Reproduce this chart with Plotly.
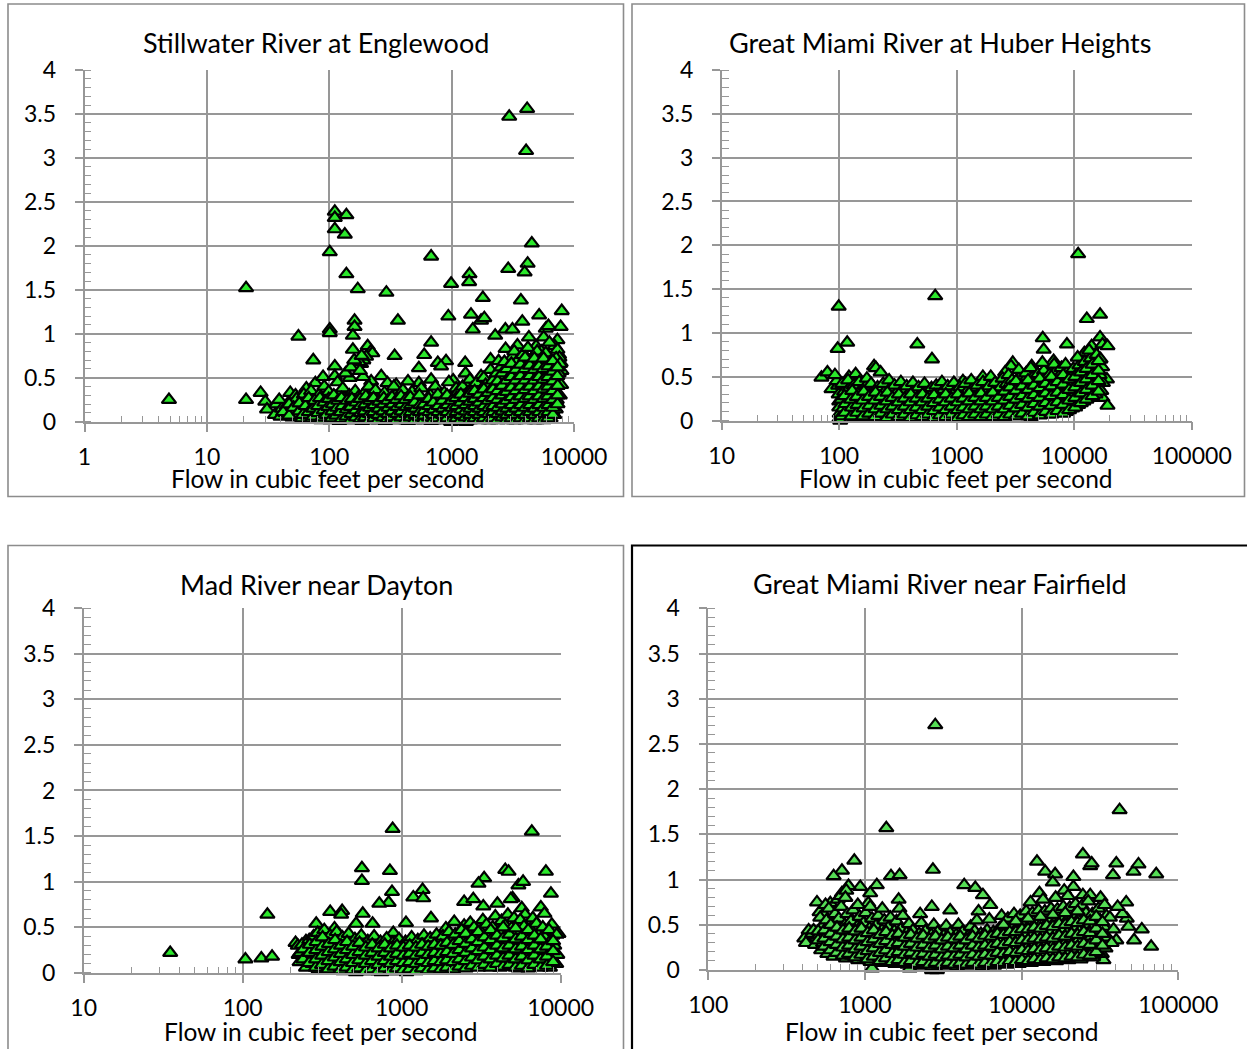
import plotly.graph_objects as go

W, H = 1247, 1049
FONT = "Lato"
GRAY = "#979797"

# ---------------- data ----------------
titles = ["Stillwater River at Englewood", "Great Miami River at Huber Heights",
          "Mad River near Dayton", "Great Miami River near Fairfield"]
x_title = "Flow in cubic feet per second"

y_tick_vals = [0, 0.5, 1, 1.5, 2, 2.5, 3, 3.5, 4]
y_tick_text = ["0", "0.5", "1", "1.5", "2", "2.5", "3", "3.5", "4"]

stillwater_ticks = [1, 10, 100, 1000, 10000]
stillwater_ticktext = ["1", "10", "100", "1000", "10000"]
huber_ticks = [10, 100, 1000, 10000, 100000]
huber_ticktext = ["10", "100", "1000", "10000", "100000"]
mad_ticks = [10, 100, 1000, 10000]
mad_ticktext = ["10", "100", "1000", "10000"]
fairfield_ticks = [100, 1000, 10000, 100000]
fairfield_ticktext = ["100", "1000", "10000", "100000"]

# (flow, value) pairs
stillwater_points = [
    (4.9, 0.25), (20.9, 1.52), (20.9, 0.25), (27.5, 0.33), (30, 0.23), (31, 0.14), (37, 0.20), (36, 0.08),
    (48, 0.33), (46, 0.21), (56, 0.97), (65, 0.38), (74, 0.70), (77, 0.44), (89, 0.51),
    (101, 1.93), (101, 1.05), (101, 1.01), (111, 2.39), (111, 2.32), (111, 2.19), (138, 2.35), (134, 2.13),
    (138, 1.68), (171, 1.51), (293, 1.47), (680, 1.88), (990, 1.57), (1400, 1.68), (1390, 1.59), (1800, 1.41),
    (2955, 3.47), (4140, 3.56), (4060, 3.08), (4520, 2.03), (2900, 1.74), (4180, 1.80), (3950, 1.70),
    (3680, 1.38), (940, 1.20), (1440, 1.22), (1740, 1.15), (1850, 1.18), (1490, 1.05), (7940, 1.26),
    (5190, 1.21), (3780, 1.14), (7780, 1.08), (2270, 0.98), (2750, 1.05), (3140, 1.05), (5880, 1.06),
    (6180, 1.09), (161, 1.15), (161, 1.08), (156, 0.98), (364, 1.15), (156, 0.82), (206, 0.86), (219, 0.80),
    (225, 0.78), (342, 0.75), (680, 0.90), (597, 0.76), (771, 0.67), (900, 0.69), (820, 0.63), (540, 0.61),
    (111, 0.63), (1290, 0.67), (1300, 0.55), (2760, 0.83), (3450, 0.87), (4280, 0.96), (4900, 0.86),
    (5650, 0.96), (7320, 0.93), (6950, 0.86), (3150, 0.74), (4040, 0.74), (4900, 0.74), (6080, 0.72),
    (7550, 0.76), (7780, 0.67), (2080, 0.71), (2420, 0.69), (2080, 0.59), (2600, 0.59), (1740, 0.52),
    (1310, 0.42), (1030, 0.47), (680, 0.48), (540, 0.44), (440, 0.46), (352, 0.42), (266, 0.52), (220, 0.46),
    (189, 0.51), (147, 0.50), (111, 0.52), (182, 0.66), (190, 0.70), (200, 0.74), (168, 0.62), (175, 0.68),
    (7320, 0.82), (7600, 0.73), (7100, 0.64), (7900, 0.58), (6600, 0.62), (5400, 0.80), (6300, 0.90),
    (40, 0.06), (41, 0.15), (39, 0.25), (44, 0.10), (45, 0.18),
    (50, 0.05), (48, 0.12), (52, 0.22), (53, 0.30), (56, 0.08), (58, 0.16), (54, 0.26),
    (60, 0.04), (63, 0.12), (59, 0.20), (62, 0.31), (67, 0.07), (69, 0.15), (65, 0.24),
    (72, 0.03), (70, 0.10), (75, 0.19), (73, 0.28), (71, 0.35), (79, 0.06), (82, 0.14), (78, 0.22), (83, 0.31),
    (86, 0.02), (84, 0.09), (89, 0.17), (87, 0.26), (91, 0.40), (94, 0.05), (92, 0.12), (97, 0.21), (96, 0.30),
    (102, 0.02), (106, 0.08), (100, 0.15), (104, 0.24), (99, 0.34), (111, 0.04), (115, 0.11), (108, 0.19),
    (113, 0.28), (117, 0.45), (121, 0.01), (125, 0.07), (119, 0.14), (127, 0.22), (123, 0.32),
    (132, 0.03), (137, 0.10), (130, 0.18), (134, 0.27), (129, 0.38), (136, 0.55),
    (144, 0.05), (149, 0.12), (141, 0.20), (146, 0.30), (150, 0.62),
    (157, 0.02), (162, 0.08), (154, 0.16), (159, 0.25), (163, 0.35), (160, 0.70),
    (171, 0.04), (176, 0.11), (167, 0.19), (173, 0.28), (178, 0.58),
    (186, 0.01), (192, 0.07), (182, 0.14), (189, 0.22), (194, 0.33), (184, 0.75),
    (203, 0.03), (209, 0.10), (198, 0.18), (206, 0.27), (211, 0.40),
    (221, 0.05), (228, 0.12), (216, 0.20), (224, 0.30), (241, 0.02), (248, 0.08), (235, 0.15), (245, 0.24),
    (239, 0.36), (263, 0.04), (271, 0.11), (257, 0.19), (268, 0.28),
    (287, 0.01), (296, 0.07), (280, 0.14), (291, 0.22), (283, 0.33), (299, 0.44),
    (313, 0.03), (322, 0.10), (306, 0.17), (318, 0.26), (341, 0.05), (351, 0.12), (333, 0.20), (346, 0.30),
    (337, 0.40), (372, 0.02), (383, 0.08), (363, 0.15), (378, 0.24),
    (405, 0.04), (417, 0.11), (396, 0.18), (411, 0.27), (400, 0.36), (442, 0.01), (455, 0.07), (431, 0.14),
    (449, 0.22), (482, 0.03), (496, 0.09), (470, 0.16), (489, 0.25), (475, 0.34),
    (525, 0.05), (541, 0.12), (512, 0.19), (533, 0.28), (572, 0.02), (589, 0.08), (558, 0.15), (581, 0.23),
    (565, 0.38), (624, 0.04), (642, 0.10), (609, 0.17), (633, 0.26),
    (680, 0.01), (700, 0.07), (663, 0.13), (690, 0.21), (671, 0.30), (741, 0.03), (763, 0.09), (723, 0.16),
    (752, 0.24), (735, 0.40), (808, 0.05), (832, 0.11), (788, 0.18), (820, 0.27),
    (881, 0.02), (907, 0.08), (859, 0.14), (894, 0.22), (870, 0.33), (960, 0.04), (988, 0.10), (937, 0.17),
    (975, 0.26), (950, 0.45), (1047, 0.01), (1078, 0.07), (1021, 0.13), (1063, 0.21), (1035, 0.30),
    (1090, 0.38), (1141, 0.03), (1175, 0.09), (1113, 0.16), (1158, 0.24), (1128, 0.34),
    (1244, 0.05), (1281, 0.11), (1214, 0.19), (1263, 0.28), (1230, 0.40),
    (1356, 0.02), (1396, 0.08), (1323, 0.15), (1377, 0.23), (1341, 0.33), (1410, 0.48),
    (1479, 0.04), (1523, 0.10), (1443, 0.18), (1501, 0.27), (1460, 0.38),
    (1612, 0.06), (1660, 0.13), (1573, 0.21), (1636, 0.31), (1590, 0.44),
    (1758, 0.03), (1810, 0.09), (1715, 0.17), (1784, 0.26), (1740, 0.36), (1830, 0.50),
    (1917, 0.05), (1974, 0.12), (1870, 0.20), (1946, 0.30), (1895, 0.42),
    (2090, 0.02), (2152, 0.08), (2039, 0.16), (2121, 0.25), (2065, 0.35), (2170, 0.47),
    (2279, 0.04), (2347, 0.11), (2223, 0.19), (2313, 0.29), (2250, 0.40), (2330, 0.55),
    (2485, 0.06), (2559, 0.14), (2424, 0.23), (2522, 0.33), (2455, 0.45), (2540, 0.62),
    (2710, 0.03), (2790, 0.10), (2644, 0.18), (2750, 0.28), (2680, 0.39), (2770, 0.52), (2700, 0.68),
    (2955, 0.05), (3043, 0.13), (2883, 0.22), (2999, 0.32), (2920, 0.44), (3020, 0.58),
    (3222, 0.02), (3318, 0.09), (3144, 0.17), (3270, 0.27), (3185, 0.38), (3290, 0.50), (3200, 0.64),
    (3250, 0.80), (3513, 0.04), (3618, 0.12), (3428, 0.21), (3565, 0.31), (3470, 0.42), (3590, 0.55),
    (3490, 0.70), (3831, 0.07), (3945, 0.15), (3738, 0.25), (3888, 0.36), (3790, 0.48), (3910, 0.60),
    (3810, 0.76), (4177, 0.03), (4302, 0.11), (4075, 0.20), (4239, 0.30), (4130, 0.41), (4260, 0.53),
    (4150, 0.66), (4200, 0.84), (4555, 0.06), (4691, 0.14), (4444, 0.24), (4622, 0.35), (4500, 0.46),
    (4650, 0.58), (4530, 0.72), (4967, 0.02), (5115, 0.10), (4846, 0.19), (5040, 0.29), (4910, 0.40),
    (5070, 0.52), (4950, 0.65), (5000, 0.80), (5416, 0.05), (5577, 0.13), (5284, 0.23), (5496, 0.34),
    (5350, 0.45), (5530, 0.57), (5390, 0.70), (5906, 0.08), (6082, 0.17), (5762, 0.27), (5993, 0.38),
    (5840, 0.50), (6030, 0.62), (5880, 0.78), (6440, 0.04), (6632, 0.12), (6283, 0.22), (6535, 0.33),
    (6360, 0.44), (6580, 0.56), (6400, 0.68), (7023, 0.15), (7232, 0.25), (6852, 0.36), (7127, 0.48),
    (6940, 0.60), (7150, 0.72), (7658, 0.30), (7850, 0.42), (7500, 0.55), (7700, 0.66),
    (6900, 0.08), (7100, 0.14), (2760, 0.10), (990, 0.0), (1310, 0.0), (1850, 0.04), (3850, 0.08),
    (5880, 0.08),
]

stillwater_dense = [
    (42, 0.11), (47, 0.07), (47, 0.20), (51, 0.16), (57, 0.12), (57, 0.21), (61, 0.08), (64, 0.18),
    (68, 0.11), (68, 0.27), (74, 0.06), (74, 0.15), (76, 0.24), (81, 0.10), (81, 0.18), (84, 0.27),
    (88, 0.05), (90, 0.13), (91, 0.22), (95, 0.08), (98, 0.17), (99, 0.26), (105, 0.04), (106, 0.12),
    (107, 0.20), (109, 0.30), (114, 0.07), (116, 0.16), (118, 0.24), (126, 0.03), (124, 0.11), (128, 0.18),
    (126, 0.27), (138, 0.06), (139, 0.14), (140, 0.24), (151, 0.02), (152, 0.09), (150, 0.17), (153, 0.26),
    (165, 0.05), (165, 0.13), (166, 0.22), (180, 0.03), (181, 0.10), (180, 0.18), (179, 0.26), (196, 0.05),
    (195, 0.12), (197, 0.20), (199, 0.29), (213, 0.02), (214, 0.09), (215, 0.16), (216, 0.24), (232, 0.04),
    (231, 0.11), (233, 0.19), (230, 0.27), (252, 0.02), (253, 0.08), (254, 0.15), (256, 0.23), (275, 0.05),
    (276, 0.12), (278, 0.20), (279, 0.27), (300, 0.03), (302, 0.09), (304, 0.16), (301, 0.24), (327, 0.05),
    (328, 0.12), (330, 0.20), (326, 0.28), (357, 0.02), (358, 0.09), (360, 0.17), (355, 0.25), (388, 0.05),
    (390, 0.12), (392, 0.20), (386, 0.29), (424, 0.02), (425, 0.09), (427, 0.17), (420, 0.25), (462, 0.05),
    (464, 0.11), (466, 0.19), (460, 0.28), (503, 0.02), (505, 0.08), (508, 0.15), (500, 0.22), (548, 0.05),
    (550, 0.11), (553, 0.19), (546, 0.30), (596, 0.02), (598, 0.07), (600, 0.13), (595, 0.20), (652, 0.05),
    (655, 0.11), (657, 0.18), (650, 0.26), (710, 0.02), (712, 0.08), (715, 0.14), (708, 0.22), (775, 0.04),
    (778, 0.11), (780, 0.18), (772, 0.31), (845, 0.02), (848, 0.08), (850, 0.15), (842, 0.24), (920, 0.04),
    (923, 0.11), (925, 0.19), (918, 0.30), (1003, 0.02), (1006, 0.09), (1009, 0.16), (1000, 0.24),
    (1094, 0.04), (1097, 0.11), (1100, 0.18), (1090, 0.27), (1192, 0.02), (1195, 0.08), (1198, 0.14),
    (1188, 0.22), (1190, 0.31), (1300, 0.05), (1303, 0.12), (1306, 0.19), (1296, 0.27), (1417, 0.02),
    (1420, 0.08), (1424, 0.15), (1412, 0.23), (1414, 0.32), (1545, 0.04), (1548, 0.11), (1552, 0.18),
    (1540, 0.26), (1542, 0.35), (1684, 0.02), (1688, 0.08), (1692, 0.15), (1680, 0.22), (1682, 0.31),
    (1836, 0.04), (1840, 0.11), (1844, 0.18), (1830, 0.27), (1833, 0.37), (2001, 0.02), (2006, 0.09),
    (2011, 0.16), (1995, 0.24), (1998, 0.33), (2183, 0.04), (2188, 0.11), (2193, 0.18), (2176, 0.27),
    (2180, 0.37), (2380, 0.02), (2385, 0.09), (2391, 0.16), (2373, 0.25), (2377, 0.35), (2375, 0.46),
    (2595, 0.05), (2601, 0.12), (2607, 0.20), (2588, 0.30), (2591, 0.41), (2590, 0.55), (2830, 0.02),
    (2836, 0.08), (2843, 0.15), (2822, 0.24), (2826, 0.34), (2825, 0.47), (2824, 0.60), (3085, 0.04),
    (3092, 0.11), (3099, 0.19), (3077, 0.28), (3081, 0.39), (3079, 0.51), (3080, 0.66), (3364, 0.02),
    (3371, 0.08), (3379, 0.15), (3355, 0.25), (3360, 0.35), (3358, 0.47), (3357, 0.59), (3668, 0.04),
    (3676, 0.11), (3684, 0.19), (3659, 0.29), (3664, 0.40), (3662, 0.52), (3661, 0.65), (4000, 0.02),
    (4009, 0.08), (4017, 0.16), (3990, 0.26), (3995, 0.36), (3993, 0.47), (3992, 0.60), (3991, 0.73),
    (4362, 0.04), (4371, 0.11), (4380, 0.19), (4351, 0.29), (4357, 0.40), (4355, 0.52), (4354, 0.64),
    (4755, 0.02), (4765, 0.08), (4775, 0.15), (4743, 0.25), (4750, 0.35), (4748, 0.47), (4747, 0.59),
    (4746, 0.72), (5185, 0.04), (5196, 0.11), (5207, 0.19), (5172, 0.29), (5179, 0.40), (5177, 0.51),
    (5176, 0.63), (5654, 0.02), (5666, 0.09), (5678, 0.16), (5640, 0.26), (5647, 0.37), (5645, 0.48),
    (5644, 0.60), (5643, 0.72), (6166, 0.04), (6179, 0.11), (6192, 0.19), (6150, 0.29), (6158, 0.40),
    (6155, 0.51), (6154, 0.63), (6724, 0.08), (6738, 0.16), (6752, 0.25), (6707, 0.35), (6716, 0.46),
    (6713, 0.57), (6712, 0.69), (7332, 0.20), (7347, 0.30), (7362, 0.41), (7314, 0.52), (7323, 0.62),
]

huber_points = [
    (99, 1.30), (97, 0.82), (117, 0.89), (656, 1.42), (462, 0.87), (616, 0.70), (10800, 1.90),
    (12800, 1.16), (16600, 1.21), (16600, 0.95), (5400, 0.94), (5500, 0.81), (8670, 0.87), (14060, 0.85),
    (12200, 0.77), (14800, 0.74), (17400, 0.87), (19200, 0.85), (19000, 0.47), (17400, 0.26),
    (19200, 0.17), (70.6, 0.49), (79.4, 0.55), (86, 0.36), (198, 0.62), (3000, 0.66), (2900, 0.62),
    (2580, 0.55), (4350, 0.62), (6680, 0.68), (6760, 0.62), (1670, 0.50), (1130, 0.45), (8780, 0.28),
    (10100, 0.32), (98, 0.40), (99, 0.30), (100, 0.22), (100, 0.15), (101, 0.08), (100, 0.02), (102, 0.0),
    (95, 0.45), (92, 0.52), (121, 0.50), (138, 0.53), (205, 0.60),
    (105, 0.05), (108, 0.14), (104, 0.24), (110, 0.33), (106, 0.42),
    (120, 0.10), (124, 0.19), (117, 0.28), (122, 0.37), (119, 0.46),
    (135, 0.04), (139, 0.13), (131, 0.22), (137, 0.31), (133, 0.40),
    (150, 0.08), (155, 0.17), (146, 0.26), (153, 0.35), (148, 0.44),
    (170, 0.03), (176, 0.12), (165, 0.21), (173, 0.30), (168, 0.39), (172, 0.48),
    (190, 0.07), (197, 0.16), (184, 0.25), (193, 0.34), (187, 0.42),
    (215, 0.02), (222, 0.11), (208, 0.20), (218, 0.29), (212, 0.38), (225, 0.55),
    (240, 0.06), (248, 0.15), (233, 0.24), (244, 0.33), (237, 0.42),
    (270, 0.10), (279, 0.19), (262, 0.28), (275, 0.37), (266, 0.46),
    (300, 0.04), (310, 0.13), (291, 0.22), (305, 0.31), (296, 0.40),
    (340, 0.08), (351, 0.17), (330, 0.26), (346, 0.35), (335, 0.44),
    (380, 0.03), (393, 0.12), (369, 0.21), (387, 0.30), (375, 0.39),
    (430, 0.07), (444, 0.16), (417, 0.25), (437, 0.34), (424, 0.43),
    (480, 0.02), (496, 0.11), (466, 0.20), (488, 0.29), (473, 0.38),
    (540, 0.06), (558, 0.15), (524, 0.24), (549, 0.33), (532, 0.42),
    (600, 0.10), (620, 0.19), (582, 0.28), (610, 0.37),
    (680, 0.04), (702, 0.13), (660, 0.22), (691, 0.31), (670, 0.40),
    (760, 0.08), (785, 0.17), (737, 0.26), (773, 0.35), (749, 0.44),
    (850, 0.03), (878, 0.12), (825, 0.21), (864, 0.30), (838, 0.39),
    (960, 0.07), (992, 0.16), (931, 0.25), (976, 0.34), (946, 0.43),
    (1080, 0.02), (1116, 0.11), (1048, 0.20), (1098, 0.29), (1064, 0.38),
    (1200, 0.06), (1240, 0.15), (1164, 0.24), (1220, 0.33), (1183, 0.42),
    (1350, 0.10), (1395, 0.19), (1310, 0.28), (1373, 0.37), (1330, 0.46),
    (1520, 0.04), (1570, 0.13), (1475, 0.22), (1546, 0.31), (1498, 0.40),
    (1700, 0.08), (1756, 0.17), (1650, 0.26), (1729, 0.35), (1676, 0.44),
    (1900, 0.03), (1963, 0.12), (1844, 0.21), (1932, 0.30), (1873, 0.39), (1950, 0.50),
    (2150, 0.07), (2221, 0.16), (2086, 0.25), (2186, 0.34), (2120, 0.43),
    (2400, 0.02), (2480, 0.11), (2329, 0.20), (2441, 0.29), (2366, 0.38), (2460, 0.48),
    (2700, 0.06), (2789, 0.15), (2620, 0.24), (2746, 0.33), (2662, 0.42), (2760, 0.52),
    (3000, 0.10), (3099, 0.19), (2911, 0.28), (3051, 0.37), (2958, 0.46),
    (3400, 0.05), (3512, 0.14), (3299, 0.23), (3458, 0.32), (3352, 0.41), (3480, 0.50), (3380, 0.58),
    (3800, 0.09), (3925, 0.18), (3687, 0.27), (3865, 0.36), (3747, 0.45), (3890, 0.54),
    (4300, 0.04), (4442, 0.13), (4172, 0.22), (4373, 0.31), (4240, 0.40), (4400, 0.49), (4270, 0.60),
    (4800, 0.08), (4958, 0.17), (4658, 0.26), (4882, 0.35), (4733, 0.44), (4910, 0.53),
    (5400, 0.12), (5578, 0.21), (5240, 0.30), (5492, 0.39), (5325, 0.48), (5520, 0.57), (5360, 0.66),
    (6000, 0.07), (6198, 0.16), (5822, 0.25), (6102, 0.34), (5917, 0.43), (6140, 0.52),
    (6800, 0.11), (7024, 0.20), (6598, 0.29), (6916, 0.38), (6706, 0.47), (6950, 0.56), (6750, 0.64),
    (7600, 0.15), (7851, 0.24), (7374, 0.33), (7729, 0.42), (7494, 0.51), (7780, 0.60),
    (8500, 0.10), (8780, 0.19), (8248, 0.28), (8645, 0.37), (8382, 0.46), (8700, 0.55), (8440, 0.64),
    (9600, 0.14), (9917, 0.23), (9315, 0.32), (9763, 0.41), (9467, 0.50), (9820, 0.59),
    (10800, 0.18), (11156, 0.27), (10479, 0.36), (10984, 0.45), (10650, 0.54), (11050, 0.63), (10700, 0.72),
    (12000, 0.22), (12396, 0.31), (11644, 0.40), (12204, 0.49), (11834, 0.58), (12280, 0.67),
    (13500, 0.26), (13945, 0.35), (13099, 0.44), (13730, 0.53), (13313, 0.62), (13800, 0.71), (13400, 0.80),
    (15200, 0.30), (15702, 0.39), (14749, 0.48), (15458, 0.57), (14990, 0.66), (15500, 0.75),
    (17000, 0.34), (17560, 0.43), (16495, 0.52), (17289, 0.61), (16765, 0.70),
]

huber_dense = [
    (112, 0.09), (113, 0.19), (111, 0.28), (127, 0.05), (128, 0.15), (126, 0.24), (129, 0.34),
    (142, 0.09), (143, 0.18), (141, 0.27), (160, 0.05), (161, 0.14), (159, 0.23), (162, 0.33),
    (180, 0.08), (181, 0.17), (179, 0.27), (202, 0.04), (203, 0.13), (201, 0.23), (204, 0.32),
    (227, 0.08), (228, 0.17), (226, 0.27), (255, 0.03), (256, 0.13), (254, 0.22), (257, 0.32),
    (285, 0.07), (286, 0.16), (284, 0.26), (320, 0.04), (321, 0.12), (319, 0.21), (322, 0.30),
    (360, 0.07), (361, 0.16), (359, 0.25), (405, 0.03), (406, 0.12), (404, 0.21), (407, 0.30),
    (455, 0.06), (456, 0.15), (454, 0.25), (510, 0.04), (511, 0.12), (509, 0.21), (512, 0.30),
    (570, 0.07), (571, 0.16), (569, 0.25), (640, 0.03), (641, 0.11), (639, 0.20), (642, 0.29),
    (720, 0.06), (721, 0.15), (719, 0.24), (805, 0.04), (806, 0.12), (804, 0.21), (807, 0.30),
    (905, 0.07), (906, 0.16), (904, 0.25), (1020, 0.03), (1021, 0.12), (1019, 0.21), (1022, 0.30),
    (1140, 0.06), (1141, 0.15), (1139, 0.25), (1275, 0.04), (1276, 0.13), (1274, 0.22), (1277, 0.31),
    (1435, 0.07), (1436, 0.16), (1434, 0.26), (1610, 0.04), (1611, 0.13), (1609, 0.22), (1612, 0.31),
    (1800, 0.07), (1801, 0.16), (1799, 0.26), (2025, 0.04), (2026, 0.13), (2024, 0.22), (2027, 0.32),
    (2275, 0.07), (2276, 0.16), (2274, 0.26), (2550, 0.04), (2551, 0.13), (2549, 0.23), (2552, 0.33),
    (2850, 0.07), (2851, 0.17), (2849, 0.27), (2848, 0.38), (3200, 0.05), (3201, 0.14), (3199, 0.24),
    (3202, 0.34), (3198, 0.45), (3600, 0.08), (3601, 0.18), (3599, 0.28), (3602, 0.39), (4050, 0.05),
    (4051, 0.15), (4049, 0.25), (4052, 0.35), (4048, 0.46), (4550, 0.09), (4551, 0.19), (4549, 0.29),
    (4552, 0.40), (5100, 0.06), (5101, 0.16), (5099, 0.26), (5102, 0.37), (5098, 0.48), (5700, 0.10),
    (5701, 0.20), (5699, 0.31), (5702, 0.42), (6400, 0.07), (6401, 0.17), (6399, 0.28), (6402, 0.39),
    (6398, 0.50), (7200, 0.11), (7201, 0.21), (7199, 0.32), (7202, 0.44), (8050, 0.08), (8051, 0.18),
    (8049, 0.29), (8052, 0.41), (8048, 0.52), (9050, 0.12), (9051, 0.23), (9049, 0.35), (9052, 0.47),
    (10200, 0.15), (10201, 0.26), (10199, 0.38), (10202, 0.50), (11400, 0.20), (11401, 0.31),
    (11399, 0.43), (11402, 0.55), (12700, 0.24), (12701, 0.35), (12699, 0.47), (12702, 0.59),
    (14300, 0.28), (14301, 0.40), (14299, 0.52), (14302, 0.64), (16100, 0.33), (16101, 0.45),
    (16099, 0.57), (16102, 0.68),
]

mad_points = [
    (35, 0.22), (104, 0.15), (131, 0.16), (153, 0.18), (143, 0.64), (877, 1.58), (6580, 1.55), (562, 1.15),
    (562, 1.01), (843, 1.12), (869, 0.89), (828, 0.77), (723, 0.76), (1183, 0.83), (1353, 0.91),
    (1365, 0.82), (4480, 1.13), (4700, 1.11), (8070, 1.11), (8680, 0.87), (3300, 1.04), (3040, 0.98),
    (5420, 0.96), (5800, 1.00), (7500, 0.72), (7900, 0.65), (2470, 0.78), (2820, 0.81), (3260, 0.73),
    (4000, 0.76), (4980, 0.82), (8790, 0.53), (9680, 0.43), (8870, 0.41), (7500, 0.22), (8680, 0.22),
    (5700, 0.11), (6940, 0.11), (8240, 0.11), (355, 0.67), (422, 0.68), (416, 0.64), (569, 0.65),
    (215, 0.33), (290, 0.54), (378, 0.49), (517, 0.54), (656, 0.54), (885, 0.44), (1064, 0.55),
    (1528, 0.60), (1897, 0.49), (2140, 0.56), (2470, 0.52), (4850, 0.81), (5690, 0.71), (5970, 0.64),
    (222, 0.30), (225, 0.20), (228, 0.12), (240, 0.25), (250, 0.35), (260, 0.15),
    (230, 0.22), (236, 0.31), (250, 0.06), (256, 0.17), (246, 0.27), (262, 0.36),
    (275, 0.10), (284, 0.20), (268, 0.29), (279, 0.40), (300, 0.04), (311, 0.14), (292, 0.23),
    (305, 0.33), (296, 0.44), (330, 0.08), (341, 0.18), (321, 0.27), (336, 0.37), (326, 0.47),
    (360, 0.03), (372, 0.12), (350, 0.21), (366, 0.31), (355, 0.41),
    (395, 0.07), (408, 0.16), (384, 0.25), (402, 0.35), (390, 0.45),
    (430, 0.02), (444, 0.11), (418, 0.20), (437, 0.29), (424, 0.39),
    (470, 0.05), (486, 0.14), (457, 0.23), (478, 0.33), (464, 0.43),
    (515, 0.01), (532, 0.09), (501, 0.18), (524, 0.27), (508, 0.37),
    (565, 0.04), (584, 0.13), (549, 0.22), (575, 0.31), (557, 0.41),
    (620, 0.02), (641, 0.08), (603, 0.17), (631, 0.26), (612, 0.35),
    (680, 0.05), (703, 0.12), (661, 0.21), (692, 0.30), (671, 0.40),
    (745, 0.01), (770, 0.09), (724, 0.16), (758, 0.25), (735, 0.34),
    (815, 0.03), (842, 0.11), (792, 0.20), (829, 0.29), (804, 0.38),
    (890, 0.02), (920, 0.07), (865, 0.15), (905, 0.24), (878, 0.33),
    (975, 0.04), (1008, 0.12), (948, 0.19), (992, 0.28), (962, 0.37),
    (1070, 0.01), (1106, 0.08), (1040, 0.16), (1088, 0.25), (1056, 0.34),
    (1170, 0.05), (1209, 0.13), (1137, 0.21), (1190, 0.30), (1154, 0.39),
    (1280, 0.03), (1323, 0.10), (1244, 0.18), (1302, 0.27), (1263, 0.36),
    (1400, 0.06), (1447, 0.14), (1361, 0.23), (1424, 0.32), (1381, 0.41),
    (1530, 0.04), (1581, 0.11), (1487, 0.20), (1556, 0.29), (1510, 0.38),
    (1680, 0.07), (1736, 0.15), (1633, 0.24), (1709, 0.33), (1657, 0.42),
    (1840, 0.05), (1902, 0.12), (1789, 0.21), (1872, 0.30), (1815, 0.40),
    (2010, 0.08), (2077, 0.16), (1954, 0.25), (2045, 0.35), (1983, 0.45),
    (2200, 0.06), (2274, 0.14), (2139, 0.23), (2238, 0.32), (2170, 0.42),
    (2410, 0.09), (2491, 0.17), (2343, 0.27), (2452, 0.37), (2378, 0.47),
    (2640, 0.07), (2728, 0.15), (2566, 0.24), (2686, 0.34), (2604, 0.44), (2700, 0.55),
    (2890, 0.10), (2987, 0.19), (2809, 0.29), (2940, 0.39), (2851, 0.50),
    (3160, 0.08), (3266, 0.17), (3072, 0.26), (3215, 0.36), (3118, 0.46), (3240, 0.58),
    (3460, 0.12), (3576, 0.21), (3363, 0.31), (3520, 0.42), (3413, 0.53),
    (3790, 0.09), (3917, 0.18), (3684, 0.28), (3856, 0.39), (3739, 0.50), (3880, 0.62),
    (4150, 0.06), (4289, 0.15), (4034, 0.25), (4222, 0.35), (4094, 0.46), (4250, 0.57),
    (4540, 0.11), (4692, 0.20), (4413, 0.30), (4619, 0.41), (4479, 0.52), (4650, 0.64),
    (4970, 0.08), (5137, 0.17), (4831, 0.27), (5056, 0.38), (4903, 0.49), (5090, 0.60),
    (5440, 0.05), (5622, 0.14), (5288, 0.24), (5534, 0.35), (5366, 0.46), (5570, 0.58),
    (5960, 0.10), (6160, 0.19), (5793, 0.29), (6063, 0.40), (5880, 0.51),
    (6520, 0.07), (6738, 0.16), (6337, 0.26), (6633, 0.37), (6432, 0.48), (6680, 0.60),
    (7140, 0.12), (7379, 0.21), (6940, 0.31), (7264, 0.42), (7044, 0.54),
    (7820, 0.09), (8082, 0.18), (7601, 0.28), (7956, 0.39), (7714, 0.50),
    (8560, 0.06), (8847, 0.15), (8320, 0.25), (8708, 0.36), (8444, 0.47),
    (9370, 0.10), (9520, 0.20), (9108, 0.30), (9430, 0.42),
]

mad_dense = [
    (240, 0.15), (241, 0.26), (262, 0.11), (263, 0.22), (264, 0.31), (288, 0.06), (289, 0.15),
    (290, 0.25), (291, 0.34), (315, 0.09), (316, 0.19), (317, 0.29), (318, 0.39), (345, 0.04),
    (346, 0.13), (347, 0.23), (348, 0.32), (378, 0.07), (379, 0.17), (380, 0.26), (381, 0.36),
    (412, 0.03), (413, 0.12), (414, 0.21), (415, 0.30), (450, 0.06), (451, 0.15), (452, 0.25),
    (453, 0.34), (492, 0.03), (493, 0.11), (494, 0.20), (495, 0.29), (540, 0.05), (541, 0.14),
    (542, 0.23), (543, 0.33), (592, 0.02), (593, 0.10), (594, 0.19), (595, 0.28), (650, 0.04),
    (651, 0.13), (652, 0.22), (653, 0.31), (712, 0.02), (713, 0.09), (714, 0.18), (715, 0.27),
    (780, 0.05), (781, 0.13), (782, 0.22), (783, 0.31), (852, 0.02), (853, 0.10), (854, 0.18),
    (855, 0.27), (932, 0.05), (933, 0.13), (934, 0.21), (935, 0.30), (1022, 0.03), (1023, 0.11),
    (1024, 0.19), (1025, 0.28), (1120, 0.04), (1121, 0.12), (1122, 0.21), (1123, 0.30),
    (1225, 0.02), (1226, 0.10), (1227, 0.19), (1228, 0.28), (1340, 0.05), (1341, 0.13),
    (1342, 0.22), (1343, 0.31), (1465, 0.03), (1466, 0.11), (1467, 0.20), (1468, 0.29),
    (1605, 0.05), (1606, 0.13), (1607, 0.22), (1608, 0.31), (1760, 0.04), (1761, 0.12),
    (1762, 0.21), (1763, 0.30), (1925, 0.06), (1926, 0.14), (1927, 0.23), (1928, 0.33),
    (2105, 0.04), (2106, 0.12), (2107, 0.21), (2108, 0.31), (2305, 0.07), (2306, 0.15),
    (2307, 0.25), (2308, 0.35), (2525, 0.05), (2526, 0.13), (2527, 0.22), (2528, 0.32),
    (2529, 0.43), (2765, 0.08), (2766, 0.17), (2767, 0.27), (2768, 0.37), (3025, 0.06),
    (3026, 0.14), (3027, 0.24), (3028, 0.34), (3029, 0.45), (3310, 0.09), (3311, 0.18),
    (3312, 0.28), (3313, 0.39), (3625, 0.06), (3626, 0.15), (3627, 0.25), (3628, 0.36),
    (3629, 0.47), (3970, 0.10), (3971, 0.19), (3972, 0.30), (3973, 0.41), (4345, 0.07),
    (4346, 0.16), (4347, 0.27), (4348, 0.38), (4349, 0.50), (4755, 0.09), (4756, 0.19),
    (4757, 0.30), (4758, 0.42), (5205, 0.06), (5206, 0.15), (5207, 0.26), (5208, 0.37),
    (5209, 0.49), (5700, 0.08), (5701, 0.18), (5702, 0.29), (5703, 0.40), (6240, 0.05),
    (6241, 0.14), (6242, 0.25), (6243, 0.36), (6244, 0.47), (6830, 0.09), (6831, 0.19),
    (6832, 0.30), (6833, 0.41), (7480, 0.06), (7481, 0.15), (7482, 0.26), (7483, 0.37),
    (8190, 0.08), (8191, 0.18), (8192, 0.29), (8960, 0.12), (8961, 0.24), (8962, 0.35),
]

fairfield_points = [
    (2810, 2.71), (42200, 1.77), (1368, 1.57), (2715, 1.11), (855, 1.21), (713, 1.10), (631, 1.04),
    (1466, 1.04), (1664, 1.05), (12530, 1.20), (14130, 1.09), (16360, 1.06), (15800, 0.97), (24600, 1.28),
    (27400, 1.15), (28000, 1.18), (40200, 1.18), (38300, 1.05), (51800, 1.09), (55700, 1.17),
    (72300, 1.06), (21400, 1.03), (21400, 0.92), (18700, 0.88), (24600, 0.83), (27400, 0.83),
    (13000, 0.85), (4300, 0.94), (5060, 0.91), (5660, 0.83), (6310, 0.72), (5310, 0.65), (3500, 0.66),
    (2670, 0.70), (2250, 0.62), (1190, 0.94), (1080, 0.85), (933, 0.92), (785, 0.93), (494, 0.75),
    (513, 0.64), (601, 0.74), (713, 0.85), (1640, 0.78), (1660, 0.68), (410, 0.35), (437, 0.44),
    (482, 0.32), (58500, 0.45), (52200, 0.33), (67100, 0.26), (46500, 0.75), (46900, 0.57),
    (40200, 0.33), (28800, 0.28), (32500, 0.18), (33300, 0.11), (1110, 0.02), (1930, 0.02),
    (2680, 0.0), (2880, 0.0), (420, 0.30), (460, 0.40), (500, 0.28), (545, 0.62), (560, 0.72),
    (670, 0.78), (700, 0.82), (760, 0.88), (1050, 0.74), (44000, 0.62), (48000, 0.48), (41000, 0.70),
    (480, 0.28), (492, 0.36), (470, 0.44),
    (525, 0.22), (540, 0.30), (512, 0.39), (533, 0.48), (518, 0.58),
    (575, 0.18), (592, 0.26), (561, 0.35), (583, 0.45), (568, 0.55), (588, 0.68),
    (630, 0.15), (649, 0.23), (614, 0.32), (639, 0.41), (622, 0.51), (644, 0.62),
    (690, 0.19), (711, 0.27), (673, 0.36), (700, 0.46), (681, 0.57), (705, 0.70),
    (755, 0.13), (778, 0.21), (736, 0.30), (766, 0.40), (745, 0.50), (772, 0.62), (750, 0.80),
    (825, 0.16), (850, 0.24), (804, 0.33), (837, 0.43), (814, 0.54), (842, 0.66),
    (905, 0.11), (932, 0.19), (882, 0.28), (918, 0.38), (893, 0.48), (925, 0.59), (900, 0.72),
    (990, 0.14), (1020, 0.22), (965, 0.31), (1005, 0.41), (978, 0.52), (1012, 0.63),
    (1085, 0.09), (1118, 0.17), (1058, 0.26), (1101, 0.36), (1071, 0.46), (1110, 0.57), (1080, 0.70),
    (1190, 0.12), (1226, 0.20), (1160, 0.29), (1208, 0.39), (1175, 0.49), (1215, 0.60),
    (1300, 0.08), (1339, 0.16), (1268, 0.25), (1320, 0.34), (1284, 0.44), (1330, 0.55), (1290, 0.68),
    (1425, 0.10), (1468, 0.18), (1389, 0.27), (1446, 0.37), (1407, 0.47), (1455, 0.58),
    (1560, 0.07), (1607, 0.15), (1521, 0.24), (1583, 0.33), (1540, 0.43), (1590, 0.54),
    (1710, 0.09), (1761, 0.17), (1667, 0.26), (1736, 0.35), (1688, 0.45), (1745, 0.60),
    (1870, 0.06), (1926, 0.14), (1823, 0.22), (1898, 0.31), (1846, 0.41), (1910, 0.51),
    (2050, 0.08), (2112, 0.16), (1999, 0.25), (2081, 0.34), (2024, 0.44),
    (2245, 0.05), (2312, 0.13), (2189, 0.21), (2279, 0.30), (2216, 0.40), (2290, 0.52),
    (2460, 0.07), (2534, 0.15), (2398, 0.24), (2497, 0.33), (2428, 0.43),
    (2690, 0.04), (2771, 0.12), (2623, 0.20), (2730, 0.29), (2656, 0.39), (2750, 0.50),
    (2950, 0.06), (3039, 0.14), (2876, 0.23), (2994, 0.32), (2912, 0.42),
    (3230, 0.05), (3327, 0.11), (3149, 0.19), (3278, 0.28), (3189, 0.38), (3300, 0.49),
    (3540, 0.07), (3646, 0.13), (3452, 0.22), (3593, 0.31), (3495, 0.41),
    (3870, 0.04), (3986, 0.12), (3773, 0.20), (3928, 0.29), (3821, 0.39), (3950, 0.50),
    (4240, 0.06), (4367, 0.14), (4134, 0.23), (4304, 0.32), (4186, 0.42),
    (4640, 0.05), (4779, 0.11), (4524, 0.19), (4710, 0.28), (4581, 0.38), (4730, 0.48),
    (5080, 0.07), (5232, 0.15), (4953, 0.24), (5156, 0.33), (5015, 0.43), (5180, 0.55),
    (5570, 0.04), (5737, 0.12), (5431, 0.21), (5654, 0.30), (5499, 0.40),
    (6100, 0.06), (6283, 0.14), (5948, 0.23), (6192, 0.33), (6022, 0.44), (6220, 0.56),
    (6680, 0.05), (6880, 0.13), (6513, 0.22), (6780, 0.32), (6595, 0.42),
    (7310, 0.07), (7529, 0.15), (7127, 0.25), (7420, 0.35), (7217, 0.46), (7450, 0.60),
    (8010, 0.06), (8250, 0.14), (7810, 0.24), (8130, 0.34), (7908, 0.45), (8170, 0.57),
    (8770, 0.08), (9033, 0.17), (8551, 0.27), (8902, 0.38), (8658, 0.49), (8940, 0.62),
    (9600, 0.07), (9888, 0.16), (9360, 0.26), (9744, 0.37), (9478, 0.48), (9790, 0.60),
    (10500, 0.09), (10815, 0.18), (10238, 0.29), (10658, 0.40), (10366, 0.52), (10700, 0.65),
    (11500, 0.08), (11845, 0.17), (11213, 0.28), (11673, 0.39), (11353, 0.51), (11720, 0.63), (11400, 0.75),
    (12600, 0.10), (12978, 0.19), (12285, 0.30), (12789, 0.41), (12439, 0.53), (12840, 0.66),
    (13800, 0.09), (14214, 0.18), (13455, 0.29), (14007, 0.41), (13624, 0.53), (14060, 0.65), (13700, 0.78),
    (15100, 0.11), (15553, 0.20), (14723, 0.31), (15327, 0.43), (14908, 0.55), (15390, 0.68),
    (16600, 0.10), (17098, 0.19), (16185, 0.30), (16849, 0.42), (16388, 0.54), (16920, 0.67), (16480, 0.80),
    (18100, 0.12), (18643, 0.22), (17648, 0.33), (18372, 0.45), (17869, 0.57), (18450, 0.70),
    (19900, 0.11), (20497, 0.21), (19403, 0.32), (20199, 0.44), (19646, 0.56), (20280, 0.69), (19750, 0.82),
    (21700, 0.13), (22351, 0.23), (21158, 0.35), (22026, 0.47), (21423, 0.60), (22110, 0.73),
    (23800, 0.12), (24514, 0.22), (23205, 0.34), (24157, 0.46), (23497, 0.58), (24260, 0.71),
    (26100, 0.15), (26883, 0.26), (25448, 0.38), (26492, 0.50), (25767, 0.63), (26600, 0.76),
    (28600, 0.14), (29458, 0.25), (27885, 0.37), (29029, 0.49), (28235, 0.62),
    (31300, 0.18), (32239, 0.30), (30518, 0.42), (31770, 0.55), (30900, 0.68), (31900, 0.80),
    (34300, 0.24), (35329, 0.36), (33443, 0.48), (34815, 0.60), (33860, 0.72),
    (37500, 0.30), (38600, 0.45), (36600, 0.58),
]

fairfield_dense = [
    (502, 0.33), (503, 0.43), (550, 0.26), (551, 0.35), (552, 0.44), (602, 0.22), (603, 0.31),
    (604, 0.40), (605, 0.50), (660, 0.19), (661, 0.28), (662, 0.37), (663, 0.47), (722, 0.16),
    (723, 0.25), (724, 0.34), (725, 0.44), (790, 0.18), (791, 0.27), (792, 0.36), (793, 0.46),
    (865, 0.14), (866, 0.23), (867, 0.33), (868, 0.43), (947, 0.17), (948, 0.26), (949, 0.36),
    (950, 0.46), (1037, 0.12), (1038, 0.21), (1039, 0.31), (1040, 0.41), (1137, 0.15),
    (1138, 0.24), (1139, 0.34), (1140, 0.44), (1245, 0.10), (1246, 0.19), (1247, 0.29),
    (1248, 0.39), (1362, 0.13), (1363, 0.22), (1364, 0.32), (1365, 0.42), (1492, 0.09),
    (1493, 0.18), (1494, 0.28), (1495, 0.38), (1635, 0.11), (1636, 0.20), (1637, 0.30),
    (1638, 0.40), (1790, 0.08), (1791, 0.17), (1792, 0.26), (1793, 0.36), (1960, 0.10),
    (1961, 0.19), (1962, 0.29), (1963, 0.39), (2147, 0.07), (2148, 0.16), (2149, 0.25),
    (2150, 0.35), (2352, 0.09), (2353, 0.18), (2354, 0.28), (2355, 0.38), (2575, 0.06),
    (2576, 0.15), (2577, 0.24), (2578, 0.34), (2820, 0.08), (2821, 0.17), (2822, 0.27),
    (2823, 0.37), (3090, 0.06), (3091, 0.14), (3092, 0.23), (3093, 0.33), (3385, 0.08),
    (3386, 0.16), (3387, 0.26), (3388, 0.36), (3705, 0.06), (3706, 0.15), (3707, 0.24),
    (3708, 0.34), (4055, 0.08), (4056, 0.17), (4057, 0.27), (4058, 0.37), (4440, 0.06),
    (4441, 0.14), (4442, 0.23), (4443, 0.33), (4860, 0.08), (4861, 0.17), (4862, 0.27),
    (4863, 0.37), (5325, 0.06), (5326, 0.15), (5327, 0.25), (5328, 0.35), (5835, 0.08),
    (5836, 0.17), (5837, 0.27), (5838, 0.38), (6390, 0.07), (6391, 0.16), (6392, 0.26),
    (6393, 0.37), (6995, 0.09), (6996, 0.19), (6997, 0.29), (6998, 0.40), (7660, 0.08),
    (7661, 0.18), (7662, 0.28), (7663, 0.39), (7664, 0.50), (8390, 0.10), (8391, 0.20),
    (8392, 0.31), (8393, 0.42), (9185, 0.09), (9186, 0.19), (9187, 0.30), (9188, 0.42),
    (9189, 0.54), (10050, 0.11), (10051, 0.22), (10052, 0.33), (10053, 0.45), (11000, 0.10),
    (11001, 0.21), (11002, 0.33), (11003, 0.45), (11004, 0.57), (12050, 0.12), (12051, 0.23),
    (12052, 0.35), (12053, 0.47), (13200, 0.11), (13201, 0.22), (13202, 0.34), (13203, 0.46),
    (13204, 0.59), (14450, 0.13), (14451, 0.24), (14452, 0.36), (14453, 0.49), (15850, 0.12),
    (15851, 0.23), (15852, 0.35), (15853, 0.48), (15854, 0.61), (17350, 0.14), (17351, 0.26),
    (17352, 0.38), (17353, 0.51), (19000, 0.13), (19001, 0.25), (19002, 0.37), (19003, 0.50),
    (19004, 0.63), (20800, 0.15), (20801, 0.27), (20802, 0.40), (20803, 0.53), (22750, 0.14),
    (22751, 0.26), (22752, 0.39), (22753, 0.52), (22754, 0.65), (24950, 0.17), (24951, 0.29),
    (24952, 0.42), (24953, 0.55), (27350, 0.16), (27351, 0.28), (27352, 0.41), (27353, 0.54),
    (29950, 0.20), (29951, 0.33), (29952, 0.46), (29953, 0.59), (32800, 0.27), (32801, 0.40),
    (32802, 0.53),
]

# ---------------- layout helpers (pixel -> paper) ----------------
def PX(x):
    return x / W

def PY(y):
    return 1 - y / H

panels = [
    dict(box=(84.5, 70, 574, 421.7), rng=[0, 4], ticks=stillwater_ticks, text=stillwater_ticktext,
         pts=stillwater_points + stillwater_dense, title=(316, 42), xt=(328, 478), fill="#2be82b",
         border=(8, 4, 623.5, 496.5), bcolor="#8c8c8c", bwidth=1.6),
    dict(box=(721.7, 70, 1191.7, 420.5), rng=[1, 5], ticks=huber_ticks, text=huber_ticktext,
         pts=huber_points + huber_dense, title=(940, 42), xt=(956, 478), fill="#2be82b",
         border=(632, 4, 1244.5, 496.5), bcolor="#8c8c8c", bwidth=1.6),
    dict(box=(83.7, 608, 560.7, 972.9), rng=[1, 4], ticks=mad_ticks, text=mad_ticktext,
         pts=mad_points + mad_dense, title=(316, 584), xt=(321, 1031), fill="#2be82b",
         border=(8, 545.5, 623.5, 1060), bcolor="#8c8c8c", bwidth=1.6),
    dict(box=(708.3, 608.3, 1178.3, 970), rng=[2, 5], ticks=fairfield_ticks, text=fairfield_ticktext,
         pts=fairfield_points + fairfield_dense, title=(940, 583), xt=(942, 1031), fill="#55dd55",
         border=(632, 545.5, 1260, 1060), bcolor="#000000", bwidth=2.2),
]

fig = go.Figure()
shapes = []
annotations = []
tick_font = dict(family=FONT, size=23, color="black")

for i, p in enumerate(panels):
    n = "" if i == 0 else str(i + 1)
    xs = [q[0] for q in p["pts"]]
    ys = [q[1] for q in p["pts"]]
    fig.add_trace(go.Scatter(
        x=xs, y=ys, mode="markers", xaxis="x" + n, yaxis="y" + n, cliponaxis=False,
        marker=dict(symbol="triangle-up", size=12.5, color=p["fill"],
                    line=dict(color="black", width=2.2)),
        hoverinfo="skip", showlegend=False))
    x0, y0, x1, y1 = p["box"]
    minor_vals = []
    for e in range(p["rng"][0], p["rng"][1]):
        for m in range(2, 10):
            minor_vals.append(m * 10 ** e)
    fig.layout["xaxis" + n] = dict(
        type="log", domain=[PX(x0), PX(x1)], range=p["rng"], anchor="y" + n, automargin=False,
        tickmode="array", tickvals=p["ticks"], ticktext=p["text"],
        ticks="outside", ticklen=8, tickwidth=1.5, tickcolor=GRAY,
        showline=True, linecolor=GRAY, linewidth=1.6,
        showgrid=True, gridcolor=GRAY, gridwidth=1.6, zeroline=False,
        minor=dict(tickmode="array", tickvals=minor_vals, ticks="inside", ticklen=6,
                   tickcolor=GRAY, tickwidth=1.2, showgrid=False),
        tickfont=tick_font, ticklabelstandoff=6, fixedrange=True)
    fig.layout["yaxis" + n] = dict(
        domain=[PY(y1), PY(y0)], range=[0, 4], anchor="x" + n, automargin=False,
        tickmode="array", tickvals=y_tick_vals, ticktext=y_tick_text,
        ticks="outside", ticklen=8, tickwidth=1.5, tickcolor=GRAY,
        showline=True, linecolor=GRAY, linewidth=1.6,
        showgrid=True, gridcolor=GRAY, gridwidth=1.6, zeroline=False,
        minor=dict(dtick=0.1, ticks="inside", ticklen=7, tickcolor=GRAY, tickwidth=1.2, showgrid=False),
        tickfont=tick_font, ticklabelstandoff=14, fixedrange=True)
    bx0, by0, bx1, by1 = p["border"]
    shapes.append(dict(type="rect", xref="paper", yref="paper",
                       x0=PX(bx0), x1=PX(bx1), y0=PY(by1), y1=PY(by0),
                       line=dict(color=p["bcolor"], width=p["bwidth"]), fillcolor="rgba(0,0,0,0)",
                       layer="below"))
    annotations.append(dict(text=titles[i], xref="paper", yref="paper",
                            x=PX(p["title"][0]), y=PY(p["title"][1]), xanchor="center", yanchor="middle",
                            showarrow=False, font=dict(family=FONT, size=27, color="black")))
    annotations.append(dict(text=x_title, xref="paper", yref="paper",
                            x=PX(p["xt"][0]), y=PY(p["xt"][1]), xanchor="center", yanchor="middle",
                            showarrow=False, font=dict(family=FONT, size=24.5, color="black")))

fig.update_layout(width=W, height=H, margin=dict(l=0, r=0, t=0, b=0, pad=0),
                  paper_bgcolor="white", plot_bgcolor="white",
                  shapes=shapes, annotations=annotations, showlegend=False)

fig.write_html("out.html", config={"displayModeBar": False},
               post_script="document.body.style.margin='0px';"
                           "document.documentElement.style.overflow='hidden';")
